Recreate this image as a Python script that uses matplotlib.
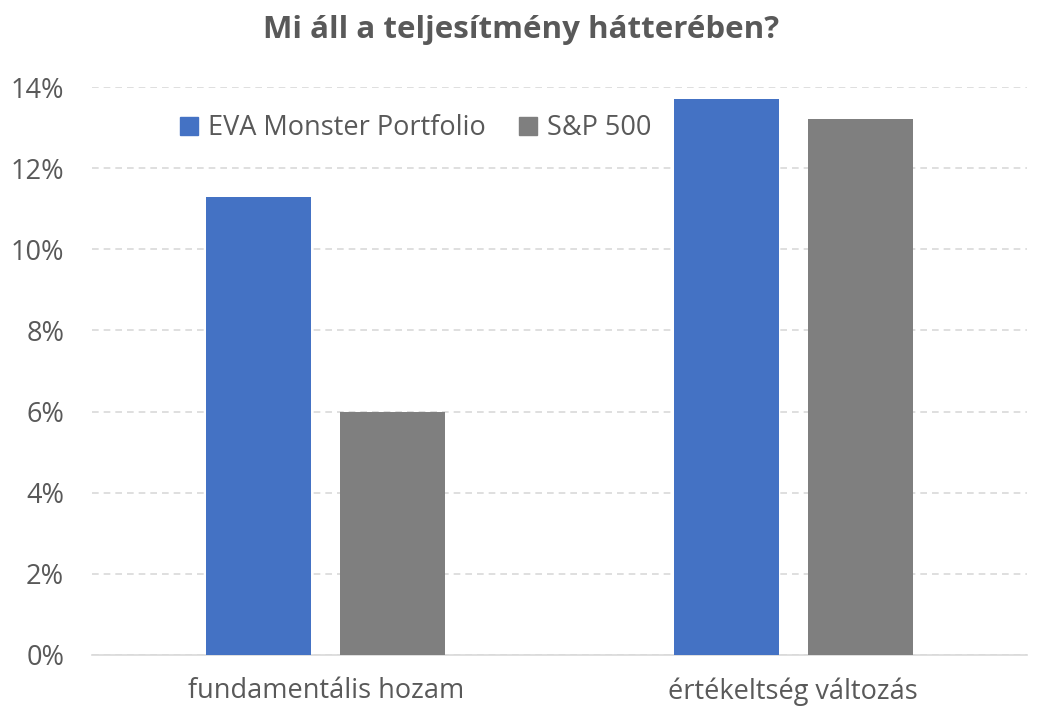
import numpy as np
import matplotlib.pyplot as plt
from matplotlib.lines import Line2D
from matplotlib.ticker import FuncFormatter

plt.rcParams['font.family'] = ['Open Sans', 'DejaVu Sans']

categories = ['fundamentális hozam', 'értékeltség változás']
series_names = ['EVA Monster Portfolio', 'S&P 500']
eva_values = [11.3, 13.7]
sp_values = [6.0, 13.2]
colors = ['#4472C4', '#7F7F7F']
title = 'Mi áll a teljesítmény hátterében?'

fig = plt.figure(figsize=(10.42, 7.22), dpi=100)
ax = fig.add_axes([0.0883, 0.0928, 0.8973, 0.7867])

x = np.arange(len(categories))
w = 0.225
off = 0.143
ax.bar(x - off, eva_values, w, color=colors[0], zorder=3)
ax.bar(x + off, sp_values, w, color=colors[1], zorder=3)

ax.set_xlim(-0.5, 1.5)
ax.set_ylim(0, 14)
ax.set_yticks(np.arange(0, 15, 2))
ax.yaxis.set_major_formatter(FuncFormatter(lambda v, p: '%d%%' % v))
ax.set_xticks(x)
ax.set_xticklabels(categories)
ax.tick_params(axis='both', length=0, labelsize=19.5, colors='#595959')
ax.tick_params(axis='x', pad=16)
ax.tick_params(axis='y', pad=20)

ax.grid(axis='y', color='#D9D9D9', linestyle=(0, (4, 3)), linewidth=1.2, zorder=0)
for s in ['top', 'right', 'left']:
    ax.spines[s].set_visible(False)
ax.spines['bottom'].set_color('#D9D9D9')
ax.spines['bottom'].set_linewidth(1.2)

fig.text(0.5, 0.958, title, ha='center', va='center', fontsize=22.5,
         fontweight='bold', color='#595959')

handles = [Line2D([], [], marker='s', linestyle='', markersize=12.5, color=c) for c in colors]
ax.legend(handles, series_names, ncol=2, loc='upper left', bbox_to_anchor=(0.065, 0.995),
          frameon=False, fontsize=19.5, labelcolor='#595959', handletextpad=0.25,
          columnspacing=1.1, handlelength=0.9)

fig.savefig('out.png', dpi=100)
